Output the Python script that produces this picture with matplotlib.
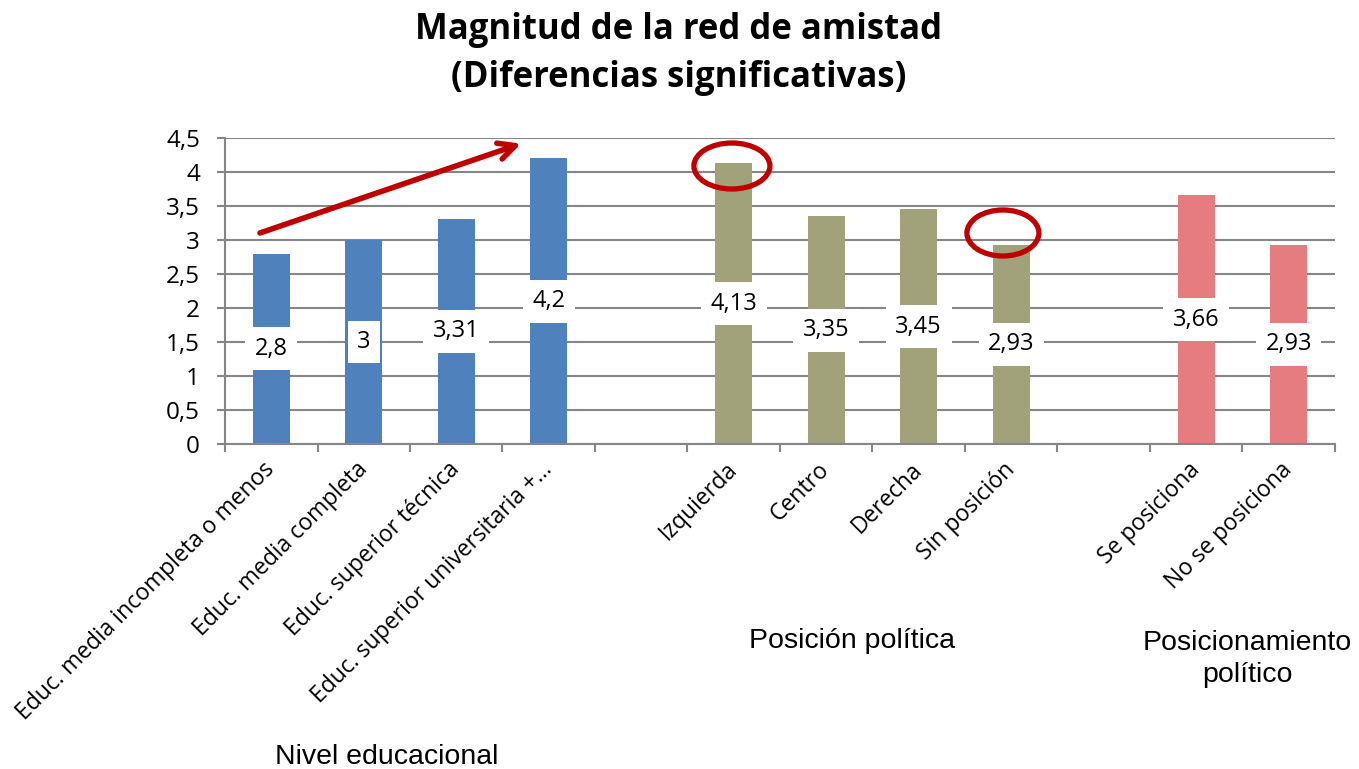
import matplotlib
matplotlib.use("Agg")
import matplotlib.pyplot as plt
import numpy as np
from matplotlib.patches import Ellipse, FancyArrowPatch

categories = ["Educ. media incompleta o menos", "Educ. media completa",
              "Educ. superior técnica", "Educ. superior universitaria +…", "",
              "Izquierda", "Centro", "Derecha", "Sin posición", "",
              "Se posiciona", "No se posiciona"]
values = [2.8, 3.0, 3.31, 4.2, np.nan, 4.13, 3.35, 3.45, 2.93, np.nan, 3.66, 2.93]
labels = ["2,8", "3", "3,31", "4,2", "", "4,13", "3,35", "3,45", "2,93", "", "3,66", "2,93"]
group_of = [0, 0, 0, 0, -1, 1, 1, 1, 1, -1, 2, 2]
group_colors = ["#4F81BD", "#A2A27A", "#E67C7F"]
group_names = ["Nivel educacional", "Posición política", "Posicionamiento\npolítico"]
yticks = [0, 0.5, 1, 1.5, 2, 2.5, 3, 3.5, 4, 4.5]
ytick_labels = ["0", "0,5", "1", "1,5", "2", "2,5", "3", "3,5", "4", "4,5"]

W, H = 1359, 769
fig = plt.figure(figsize=(W / 100, H / 100), dpi=100)
ax = fig.add_axes([225 / W, 1 - 444 / H, (1335 - 225) / W, (444 - 138) / H])

FONT = "Open Sans"
grid_c = "#868686"
x = np.arange(len(categories))
colors = [group_colors[g] if g >= 0 else "white" for g in group_of]
ax.bar(x, values, width=0.4, color=colors, zorder=2)

for xi, v, lab in zip(x, values, labels):
    if lab:
        ax.text(xi, v / 2, lab, ha="center", va="center", fontsize=17, family=FONT,
                zorder=4, bbox=dict(boxstyle="square,pad=0.4", fc="white", ec="none"))

ax.set_xlim(-0.5, len(categories) - 0.5)
ax.set_ylim(0, 4.5)
ax.set_yticks(yticks)
ax.set_yticklabels(ytick_labels, family=FONT, fontsize=17.5)
ax.yaxis.grid(True, color=grid_c, linewidth=1.5, zorder=0)
ax.set_axisbelow(True)
ax.tick_params(axis="y", length=6, width=1.5, color=grid_c, pad=12)

ax.set_xticks(x)
ax.set_xticklabels(categories, rotation=45, ha="right", va="center",
                   rotation_mode="anchor", family=FONT, fontsize=16.5)
ax.tick_params(axis="x", which="major", length=0, pad=16)
ax.set_xticks(np.arange(-0.5, len(categories)), minor=True)
ax.tick_params(axis="x", which="minor", length=6, width=1.5, color=grid_c, direction="out")

for s in ["top", "right"]:
    ax.spines[s].set_visible(False)
for s in ["left", "bottom"]:
    ax.spines[s].set_color(grid_c)
    ax.spines[s].set_linewidth(1.5)

# red annotations
red = "#C00000"
arrow = FancyArrowPatch((-0.15, 3.09), (2.73, 4.43), arrowstyle="->,head_length=12,head_width=6",
                        color=red, linewidth=4, mutation_scale=1, zorder=5, clip_on=False)
ax.add_patch(arrow)
px_x = 1 / 92.5
px_y = 1 / 68.0
ax.add_patch(Ellipse((4.98, (444 - 166) * px_y), 76 * px_x, 46 * px_y, fill=False,
                     edgecolor=red, linewidth=3.8, zorder=5, clip_on=False))
ax.add_patch(Ellipse((7.91, (444 - 233) * px_y), 72 * px_x, 46 * px_y, fill=False,
                     edgecolor=red, linewidth=3.8, zorder=5, clip_on=False))

# title
fig.text(679 / W, 1 - 30 / H, "Magnitud de la red de amistad", ha="center", va="center",
         fontsize=25, fontweight="bold", family=FONT)
fig.text(679 / W, 1 - 78 / H, "(Diferencias significativas)", ha="center", va="center",
         fontsize=25, fontweight="bold", family=FONT)

# group labels
fig.text(387 / W, 1 - 757 / H, group_names[0], ha="center", va="center",
         fontsize=20.5, family="Liberation Sans")
fig.text(852 / W, 1 - 641 / H, group_names[1], ha="center", va="center",
         fontsize=20.5, family="Liberation Sans")
fig.text(1247 / W, 1 - 659 / H, group_names[2], ha="center", va="center",
         fontsize=20.5, family="Liberation Sans", linespacing=1.25)

fig.savefig("out.png", dpi=100)
